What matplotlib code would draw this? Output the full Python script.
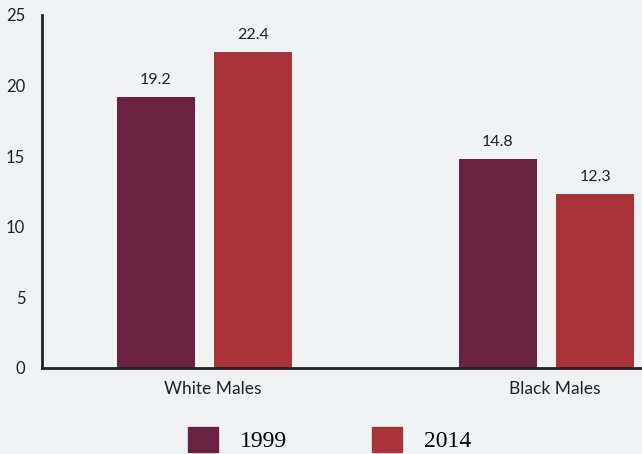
import numpy as np
import matplotlib.pyplot as plt
from matplotlib.patches import Patch

groups = ['White Males', 'Black Males']
years = ['1999', '2014']
v1999 = [19.2, 14.8]
v2014 = [22.4, 12.3]
yticks = [0, 5, 10, 15, 20, 25]

c1999 = '#6a2142'
c2014 = '#a8343a'
bg = '#f1f2f4'

plt.rcParams['font.family'] = ['Lato', 'DejaVu Sans']

fig = plt.figure(figsize=(6.42, 4.54), dpi=100, facecolor=bg)
ax = fig.add_axes([42/642, (454-368)/454, 600/642, (368-15)/454])
ax.set_facecolor(bg)

x = np.arange(len(groups))
w = 0.228
off = 0.142
b1 = ax.bar(x - off, v1999, w, color=c1999)
b2 = ax.bar(x + off, v2014, w, color=c2014)

for bars, vals in [(b1, v1999), (b2, v2014)]:
    for b, v in zip(bars, vals):
        ax.text(b.get_x() + b.get_width()/2, v + 0.7, f'{v}', ha='center', va='bottom',
                fontsize=11.5, color='#222222')

ax.set_xlim(-0.475, 1.279)
ax.set_ylim(0, 25)
ax.set_yticks(yticks)
ax.set_yticklabels([str(t) for t in yticks], fontsize=12, color='#222222')
ax.set_xticks(x + 0.025)
ax.set_xticklabels(groups, fontsize=12.5, color='#222222')
ax.tick_params(length=0, pad=12)
ax.tick_params(axis='x', pad=9)
for s in ['top', 'right']:
    ax.spines[s].set_visible(False)
for s in ['left', 'bottom']:
    ax.spines[s].set_linewidth(2)
    ax.spines[s].set_color('#222222')

# legend sits at the bottom edge, partly cropped
handles = [Patch(color=c1999, label=years[0]), Patch(color=c2014, label=years[1])]
fig.legend(handles=handles, loc='upper left', bbox_to_anchor=(171/642, 1 - 410/454), ncol=2,
           frameon=False, borderpad=0.2, handlelength=1.27, handleheight=1.27,
           columnspacing=3.6, handletextpad=0.95,
           prop={'family': 'Liberation Serif', 'size': 17})

fig.savefig('out.png', dpi=100, facecolor=bg)
